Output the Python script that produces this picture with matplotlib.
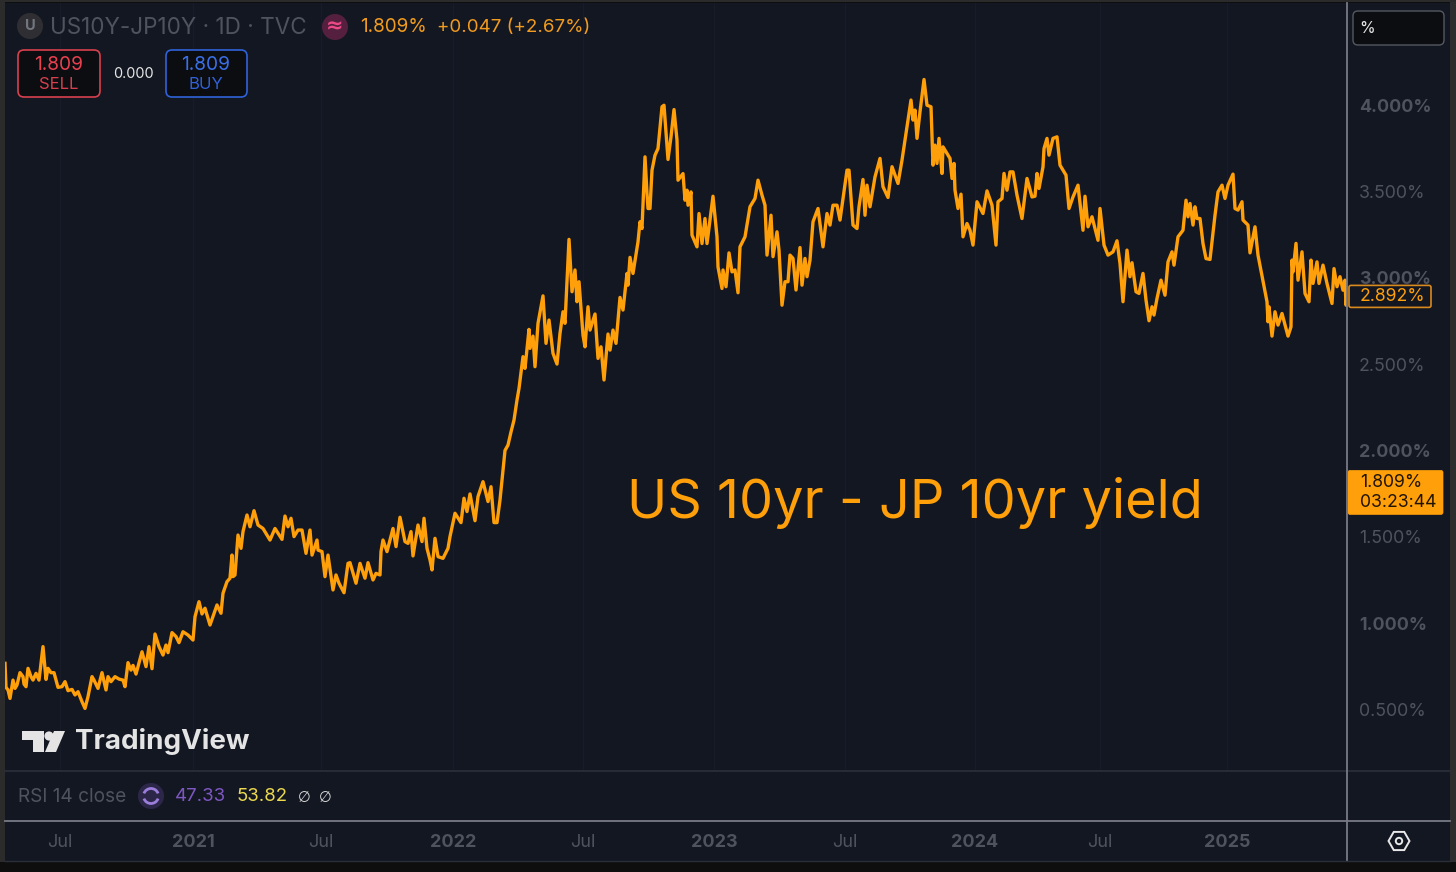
import numpy as np
import matplotlib
matplotlib.use("Agg")
import matplotlib.pyplot as plt
from matplotlib.patches import FancyBboxPatch, Circle, Rectangle, Polygon, RegularPolygon, Arc

plt.rcParams['font.family'] = ['Inter', 'Roboto', 'DejaVu Sans']

# session number (trading days since first bar) and US10Y-JP10Y spread, %
sessions = [0,1,3,5,8,10,12,15,18,19,21,23,26,28,31,34,38,41,43,46,49,53,57,60,63,67,70,73,77,80,83,87,89,93,97,101,103,106,110,114,118,120,123,126,128,131,137,141,144,147,150,154,158,161,163,167,171,174,178,183,188,190,194,197,200,205,212,216,218,222,225,227,228,230,233,236,238,242,245,249,253,258,265,270,277,280,283,286,289,293,297,301,305,307,312,313,317,320,323,328,331,334,339,343,345,351,355,360,363,368,371,375,376,378,382,388,391,395,400,403,406,408,413,417,419,422,425,427,430,433,438,443,445,450,456,459,462,465,470,473,478,483,486,489,492,495,498,500,503,506,509,512,
 514,518,520,524,525,528,530,533,538,541,544,548,552,555,558,560,564,567,570,572,574,578,580,583,585,590,593,596,599,603,605,608,611,615,618,622,623,625,628,633,635,637,640,642,643,645,647,650,653,657,659,663,666,669,672,673,678,680,682,683,686,687,692,694,697,700,702,708,712,713,717,718,721,724,727,730,733,735,740,745,750,753,757,760,762,766,768,772,774,777,780,783,785,788,791,795,797,800,802,805,808,813,818,822,825,828,832,835,842,844,848,852,854,858,860,862,865,870,875,878,883,887,893,897,902,906,908,910,912,
 915,919,922,926,928,930,932,934,937,938,945,947,949,950,953,956,958,962,965,968,972,978,982,987,991,993,997,999,1002,1005,1008,1012,1017,1022,1027,1030,1032,1034,1038,1039,1042,1044,1048,1052,1055,1061,1064,1068,1073,1078,1080,1083,1087,1093,1095,1099,1103,1108,1112,1115,1118,1122,1125,1127,1131,1134,1138,1141,1144,1147,1149,1152,1156,1160,1163,1167,1169,1173,1178,1181,1183,1185,1188,1190,1192,1195,1198,1201,1205,1210,1213,1217,1220,1223,1228,1230,1233,1237,1238,1243,1245,1250,1253,1262,1263,1264,1267,1270,1273,1277,1281,1283,1286,1287,1288,1291,1293,1297,1300,1304,1306,1308,1312,1314,1318,1322,1327,1329,1332,1335,1338,1340,1341,1342]

spread = [.767,.628,.613,.564,.670,.622,.642,.713,.690,.647,.632,.738,.690,.670,.709,.670,.864,.674,.738,.713,.713,.628,.632,.661,.609,.616,.584,.603,.545,.506,.574,.690,.670,.622,.713,.613,.690,.661,.690,.676,.670,.632,.771,.728,.755,.705,.834,.748,.864,.736,.937,.864,.815,.873,.829,.945,.922,.887,.950,.931,.902,1.037,1.124,1.053,1.086,.989,1.105,1.057,1.173,1.240,1.260,1.394,1.269,1.279,1.510,1.433,1.530,1.626,1.558,1.651,1.568,1.548,1.481,1.548,1.485,1.620,1.558,1.607,1.501,1.539,1.539,1.404,1.539,1.394,1.481,1.423,1.414,1.269,1.394,1.192,1.279,1.231,1.176,1.346,1.350,1.231,1.346,1.260,1.350,1.250,1.288,1.279,1.414,1.481,1.414,1.548,1.443,1.613,1.472,1.462,1.530,1.389,1.568,1.472,1.607,1.433,1.366,1.308,1.491,1.385,1.375,1.433,1.501,1.636,1.582,1.723,1.646,1.748,1.593,1.733,1.819,1.704,1.790,1.582,1.582,1.713,1.886,2.0,2.031,2.107,2.176,2.292,
 2.359,2.543,2.475,2.701,2.591,2.662,2.485,2.736,2.895,2.620,2.755,2.562,2.500,2.678,2.803,2.736,3.222,2.919,3.045,2.861,2.977,2.668,2.600,2.832,2.697,2.790,2.533,2.600,2.408,2.674,2.581,2.697,2.620,2.886,2.813,3.025,2.957,3.118,3.025,3.208,3.324,3.285,3.700,3.488,3.401,3.401,3.623,3.710,3.748,3.990,3.999,3.685,3.816,3.974,3.797,3.565,3.603,3.449,3.507,3.420,3.497,3.247,3.179,3.372,3.198,3.343,3.198,3.472,3.237,3.063,2.938,3.045,2.948,3.144,3.034,3.045,2.913,3.179,3.237,3.411,3.459,3.565,3.478,3.420,3.131,3.362,3.122,3.266,3.160,2.841,2.977,2.977,3.131,3.112,2.929,3.175,2.957,3.112,3.006,3.102,3.324,3.401,3.179,3.372,3.305,3.420,3.420,3.334,3.623,3.623,3.305,3.285,3.411,3.569,3.362,3.536,3.411,3.584,3.691,3.527,3.465,3.643,3.546,3.681,3.874,4.029,3.913,3.971,3.807,
 3.961,4.148,3.999,3.990,3.652,3.768,3.662,3.807,3.604,3.758,3.691,3.575,3.662,3.507,3.401,3.484,3.237,3.314,3.275,3.189,3.440,3.372,3.503,3.420,3.189,3.440,3.459,3.604,3.507,3.613,3.613,3.478,3.343,3.575,3.468,3.472,3.604,3.517,3.642,3.748,3.807,3.710,3.807,3.816,3.652,3.594,3.401,3.468,3.536,3.275,3.472,3.295,3.353,3.217,3.401,3.189,3.131,3.150,3.214,3.083,2.861,3.160,3.006,3.087,2.919,2.909,3.025,2.871,2.751,2.832,2.784,2.880,2.986,2.899,3.092,3.150,3.073,3.237,3.275,3.449,3.353,3.430,3.305,3.411,3.343,3.343,3.198,3.111,3.106,3.362,3.497,3.536,3.459,3.536,3.600,3.401,3.392,3.440,3.334,3.305,3.144,3.295,3.131,2.861,2.745,2.832,2.662,2.803,2.726,2.793,2.706,2.662,2.716,3.102,3.034,3.199,2.986,3.150,2.909,2.861,3.102,2.967,3.092,2.967,3.073,2.967,2.851,3.053,2.948,3.006,2.928,2.986,2.841,2.892]

price_ticks = [4.0, 3.5, 3.0, 2.5, 2.0, 1.5, 1.0, 0.5]
bold_prices = [4.0, 3.0, 2.0, 1.0]
time_ticks = [55, 188, 316, 448, 578, 709, 840, 970, 1095, 1222]
time_labels = ['Jul', '2021', 'Jul', '2022', 'Jul', '2023', 'Jul', '2024', 'Jul', '2025']
last_value = 2.892
live_value = 1.809

W, H = 1456, 872
BG = '#131722'
ORANGE = '#ff9f0a'
DIM = '#4f535e'
LINE = '#787b86'

fig = plt.figure(figsize=(W/100, H/100), dpi=100, facecolor='#0e0e0e')

def box(x0, y0, x1, y1):
    return [x0/W, 1-y1/H, (x1-x0)/W, (y1-y0)/H]

# backdrop of the panes, under everything else
bgx = fig.add_axes([0, 0, 1, 1], facecolor='none', zorder=0)
bgx.set_xlim(0, W)
bgx.set_ylim(H, 0)
bgx.axis('off')
bgx.add_patch(Rectangle((5, 3), 1445, 858, fc=BG, ec='none'))
bgx.add_patch(Rectangle((0, 0), 4.5, 862, fc='#2b2b2b', ec='none'))
bgx.add_patch(Rectangle((1450, 0), 6, 862, fc='#2e2e2e', ec='none'))
bgx.add_patch(Rectangle((0, 0), W, 2.5, fc='#2b2b2b', ec='none'))

# main price pane
ax = fig.add_axes(box(5, 3, 1347, 771), facecolor='none', zorder=1)
ax.plot(sessions, spread, color=ORANGE, lw=2.4, solid_joinstyle='round')
ax.set_xlim(0, 1342)
ax.set_ylim(0.1436, 4.591)
ax.yaxis.tick_right()
ax.set_yticks(price_ticks)
ax.set_yticklabels([f'{p:.3f}%' for p in price_ticks])
ax.tick_params(axis='y', length=0, pad=8.6, labelsize=12.8, labelcolor=DIM)
for lab, p in zip(ax.get_yticklabels(), price_ticks):
    lab.set_fontweight('bold' if p in bold_prices else 'normal')
ax.set_xticks(time_ticks)
ax.set_xticklabels([])
ax.tick_params(axis='x', length=0)
ax.grid(axis='x', color='#181c28', lw=1)
for s in ax.spines.values():
    s.set_visible(False)

# time axis
tx = fig.add_axes(box(5, 821, 1347, 861), facecolor='none', zorder=1)
tx.set_xlim(0, 1342)
tx.set_yticks([])
tx.set_xticks(time_ticks)
tx.set_xticklabels(time_labels, fontsize=13, color=DIM)
tx.tick_params(axis='x', length=0, pad=-19.5)
for lab, tl in zip(tx.get_xticklabels(), time_labels):
    lab.set_fontweight('bold' if tl != 'Jul' else 'normal')
for s in tx.spines.values():
    s.set_visible(False)

# overlay in pixels for the surrounding interface
ov = fig.add_axes([0, 0, 1, 1], facecolor='none', zorder=2)
ov.set_xlim(0, W)
ov.set_ylim(H, 0)
ov.axis('off')

def vy(v):
    return H - ax.transData.transform((0, v))[1]

ov.plot([5, 1450], [771, 771], color='#2a2e39', lw=1.3)
ov.plot([5, 1450], [821, 821], color=LINE, lw=1.3)
ov.plot([1347, 1347], [3, 861], color=LINE, lw=1.3)
ov.plot([5, 1450], [861, 861], color='#2a2e39', lw=1.0)

def rbox(x0, y0, x1, y1, fc, ec, r=5, lw=1.2):
    ov.add_patch(FancyBboxPatch((x0+r, y0+r), x1-x0-2*r, y1-y0-2*r,
                                boxstyle=f'round,pad={r},rounding_size={r}',
                                fc=fc, ec=ec, lw=lw, mutation_aspect=1))

def t(x, y, s, size, color, ha='left', weight='normal', **kw):
    ov.text(x, y+1.5, s, fontsize=size, color=color, ha=ha, va='center', fontweight=weight, **kw)

# header
ov.add_patch(Circle((30, 26), 13, fc='#2f2f33', ec='none'))
t(30, 25, 'U', 10.5, '#73767f', ha='center', weight='bold')
t(50, 26, 'US10Y-JP10Y · 1D · TVC', 16.2, DIM)
ov.add_patch(Circle((335, 27), 13, fc='#55203f', ec='none'))
t(335, 25, '≈', 15, '#ec4a86', ha='center', weight='bold', family='DejaVu Sans')
t(360, 26, '1.809%', 13.6, '#f29c1f')
t(437, 26, '+0.047 (+2.67%)', 13.5, '#f29c1f')

rbox(18, 50, 100, 97, '#0c0d11', '#d8404e', r=6)
t(59, 63, '1.809', 13.8, '#e8404f', ha='center')
t(59, 83, 'SELL', 12, '#d8404e', ha='center')
t(133, 72, '0.000', 10.4, '#e6e6e6', ha='center')
rbox(166, 50, 247, 97, '#0c0d11', '#2f62d8', r=6)
t(206, 63, '1.809', 13.8, '#3a6fe6', ha='center')
t(206, 83, 'BUY', 12, '#2f62d8', ha='center')

# unit box
rbox(1353, 11, 1444, 45, '#0c0d11', '#55585f', r=5, lw=1)
t(1359, 27, '%', 11.5, '#e6e6e6')

# price tags
y_last = vy(last_value)
rbox(1349, y_last-11, 1431, y_last+11, '#131722', '#d98a1e', r=2, lw=1.2)
t(1360, y_last-1, f'{last_value:.3f}%', 12.7, ORANGE)
y_live = vy(live_value)
rbox(1348, y_live-13, 1443, y_live+31, ORANGE, ORANGE, r=2, lw=0.5)
t(1360, y_live-2, f'{live_value:.3f}%', 12.7, '#201400')
t(1360, y_live+18, '03:23:44', 12.7, '#201400')

# annotation
t(627, 501, 'US 10yr - JP 10yr yield', 38.9, ORANGE)

# TradingView logo
logo = '#e4e4e4'
ov.add_patch(Polygon([(22, 731), (44, 731), (44, 752), (33, 752), (33, 740), (22, 740)], fc=logo, ec='none'))
ov.add_patch(Circle((49, 736), 4.6, fc=logo, ec='none'))
ov.add_patch(Polygon([(54, 731), (65, 731), (56, 752), (45, 752)], fc=logo, ec='none'))
t(75, 740, 'TradingView', 20, logo, weight='bold')

# RSI row
t(18, 795, 'RSI 14 close', 13.7, DIM)
ov.add_patch(Circle((151, 796), 13, fc='#2c2748', ec='none'))
ov.add_patch(Arc((151, 796), 15, 15, theta1=200, theta2=340, color='#9b7ddc', lw=2))
ov.add_patch(Arc((151, 796), 15, 15, theta1=20, theta2=160, color='#9b7ddc', lw=2))
t(175, 795, '47.33', 13.4, '#7e57c2')
t(237, 795, '53.82', 13.4, '#ecd94f')
t(304, 796, '∅', 10.5, '#d8d8d8', ha='center', family='DejaVu Sans')
t(325, 796, '∅', 10.5, '#d8d8d8', ha='center', family='DejaVu Sans')

# settings icon
ov.add_patch(RegularPolygon((1399, 841), 6, radius=10.5, orientation=np.pi/6, fc='none', ec='#e8e8e8', lw=1.4))
ov.add_patch(Circle((1399, 841), 3.2, fc='none', ec='#e8e8e8', lw=1.4))

assert len(sessions) == len(spread)
fig.savefig('out.png', dpi=100, facecolor=fig.get_facecolor())
